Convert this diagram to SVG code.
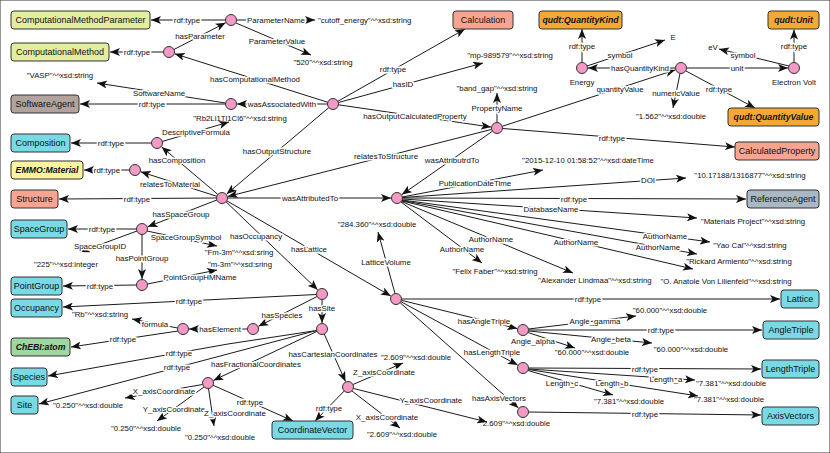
<svg xmlns="http://www.w3.org/2000/svg" width="830" height="453" viewBox="0 0 830 453">
<style>
text{font-family:"Liberation Sans",Arial,sans-serif;dominant-baseline:central;fill:#111}
.l{font-size:7.9px;text-anchor:middle;paint-order:stroke;stroke:#fff;stroke-width:3px;stroke-linejoin:round}
.v{font-size:7.8px;text-anchor:middle}
.b{font-size:9px;text-anchor:middle}
.bi{font-size:8.7px;font-weight:bold;font-style:italic;text-anchor:middle}
rect{stroke:#333;stroke-width:1}
.n{fill:#f59ac4;stroke:#333;stroke-width:1}
.cm{fill:#e4ed9f}.sa{fill:#b3a39d}.cy{fill:#79d9e5}.em{fill:#fbf49f}.sal{fill:#f7a590}.qu{fill:#f4a934}.ra{fill:#a9b8c2}.ch{fill:#9ed79f}
#edges line,#edges polyline{stroke:#1a1a1a;stroke-width:1;fill:none;marker-end:url(#ah)}
</style>
<defs>
<marker id="ah" viewBox="0 0 10 8" refX="10" refY="4" markerWidth="10" markerHeight="8" markerUnits="userSpaceOnUse" orient="auto">
<path d="M0,0 L10,4 L0,8 L2.5,4 z" fill="#111"/>
</marker>
</defs>
<rect width="830" height="453" fill="#fff" stroke="none"/>
<g id="edges">
<line x1="225.5" y1="20" x2="151" y2="20"/>
<line x1="236.5" y1="20" x2="315" y2="20"/>
<line x1="236" y1="23" x2="311" y2="55"/>
<line x1="174" y1="49.5" x2="225.7" y2="22.7"/>
<line x1="163.5" y1="52" x2="110" y2="52"/>
<line x1="327.8" y1="102.3" x2="174.7" y2="53.8"/>
<line x1="327.5" y1="104" x2="237" y2="104"/>
<line x1="225.5" y1="104" x2="80" y2="104"/>
<line x1="225.5" y1="103" x2="97" y2="83"/>
<line x1="162" y1="141.5" x2="229" y2="122"/>
<line x1="151.5" y1="143" x2="71" y2="143"/>
<line x1="217.8" y1="194.4" x2="161.6" y2="146.9"/>
<line x1="216.8" y1="196.3" x2="140.7" y2="171.8"/>
<line x1="129.5" y1="170" x2="84" y2="170"/>
<line x1="216.5" y1="198" x2="59" y2="199"/>
<line x1="216.9" y1="200" x2="147.6" y2="226.8"/>
<line x1="136.5" y1="229" x2="68" y2="229"/>
<line x1="137" y1="231" x2="80" y2="252"/>
<line x1="142" y1="234.5" x2="142" y2="279"/>
<line x1="147" y1="231" x2="217" y2="246"/>
<line x1="136.5" y1="285" x2="63" y2="286"/>
<line x1="147.5" y1="284" x2="217" y2="270"/>
<line x1="227.5" y1="198" x2="391" y2="198"/>
<line x1="328.8" y1="107.6" x2="226.6" y2="194.1"/>
<line x1="491.7" y1="129.4" x2="227.8" y2="196.5"/>
<line x1="492.5" y1="131.2" x2="401.9" y2="194.6"/>
<line x1="337.8" y1="101.3" x2="465" y2="29"/>
<line x1="338.5" y1="102.5" x2="483" y2="63"/>
<line x1="338.4" y1="104.8" x2="491" y2="127.1"/>
<line x1="497" y1="122.5" x2="497" y2="93"/>
<line x1="502.5" y1="128.5" x2="735" y2="147"/>
<line x1="502.2" y1="126.3" x2="675.3" y2="69.9"/>
<line x1="675.5" y1="68" x2="588" y2="68"/>
<line x1="582" y1="62.5" x2="582" y2="29"/>
<line x1="587" y1="66" x2="665" y2="40"/>
<line x1="686.5" y1="68" x2="788" y2="68"/>
<line x1="794" y1="62.5" x2="794" y2="29.5"/>
<line x1="789" y1="66" x2="719" y2="49"/>
<line x1="680" y1="73.5" x2="673" y2="108"/>
<line x1="686" y1="71" x2="755" y2="108"/>
<line x1="402.4" y1="197" x2="543" y2="170"/>
<line x1="402.5" y1="197.5" x2="686" y2="178"/>
<line x1="402.5" y1="198" x2="746" y2="199"/>
<line x1="402.5" y1="199" x2="697" y2="218"/>
<line x1="402" y1="200" x2="710" y2="242"/>
<line x1="402" y1="200.5" x2="697" y2="254"/>
<line x1="402" y1="201" x2="693" y2="269"/>
<line x1="401.5" y1="201.5" x2="573" y2="273"/>
<line x1="401" y1="202" x2="482" y2="263"/>
<line x1="226.8" y1="200.8" x2="390.8" y2="296"/>
<line x1="395" y1="293.5" x2="378" y2="232"/>
<line x1="401.5" y1="299" x2="780" y2="299"/>
<line x1="401.3" y1="300.3" x2="517.2" y2="328.6"/>
<line x1="400.8" y1="301.6" x2="517.7" y2="365.1"/>
<line x1="400.1" y1="302.7" x2="518.5" y2="408"/>
<line x1="528.5" y1="329" x2="636" y2="316"/>
<line x1="528.5" y1="330" x2="762" y2="330"/>
<line x1="528.5" y1="331" x2="652" y2="343"/>
<line x1="528" y1="332.5" x2="575" y2="348"/>
<line x1="528.5" y1="368" x2="761" y2="369"/>
<line x1="528.5" y1="369" x2="695" y2="380"/>
<line x1="528.5" y1="369.5" x2="698" y2="396"/>
<line x1="528" y1="370.5" x2="613" y2="395"/>
<line x1="528.5" y1="412" x2="761" y2="415"/>
<line x1="226" y1="201.8" x2="317.7" y2="289.8"/>
<line x1="316.5" y1="294.5" x2="63" y2="307"/>
<line x1="317.1" y1="296.5" x2="258.4" y2="326.3"/>
<line x1="322" y1="299.5" x2="322" y2="323"/>
<line x1="247.5" y1="329" x2="189" y2="329"/>
<line x1="177.5" y1="328" x2="132" y2="319"/>
<line x1="178" y1="331" x2="71" y2="347"/>
<polyline points="316.6,330.5 228,344 48,376"/>
<line x1="316.5" y1="330.5" x2="39" y2="404"/>
<line x1="317" y1="331.4" x2="213.4" y2="380.4"/>
<line x1="324.2" y1="334" x2="345.5" y2="381.5"/>
<line x1="213" y1="385.2" x2="293" y2="421"/>
<line x1="202.5" y1="384.5" x2="125" y2="398"/>
<line x1="204" y1="387" x2="157" y2="421"/>
<line x1="208.5" y1="388.5" x2="214" y2="426"/>
<line x1="344.2" y1="391" x2="315" y2="421"/>
<line x1="353" y1="384.5" x2="403" y2="363"/>
<line x1="353.5" y1="388.5" x2="487" y2="422"/>
<line x1="352" y1="391" x2="400" y2="428"/>
<text class="l" x="187" y="20">rdf:type</text>
<text class="l" x="276" y="20">ParameterName</text>
<text class="l" x="277" y="41">ParameterValue</text>
<text class="l" x="200" y="36">hasParameter</text>
<text class="l" x="137" y="52">rdf:type</text>
<text class="l" x="255" y="79">hasComputationalMethod</text>
<text class="l" x="282" y="104">wasAssociatedWith</text>
<text class="l" x="152" y="104">rdf:type</text>
<text class="l" x="159" y="93">SoftwareName</text>
<text class="l" x="196" y="132">DescriptiveFormula</text>
<text class="l" x="111" y="143">rdf:type</text>
<text class="l" x="177" y="160">hasComposition</text>
<text class="l" x="170" y="184">relatesToMaterial</text>
<text class="l" x="107" y="170">rdf:type</text>
<text class="l" x="137" y="199">rdf:type</text>
<text class="l" x="181" y="214">hasSpaceGroup</text>
<text class="l" x="102" y="229">rdf:type</text>
<text class="l" x="100" y="246">SpaceGroupID</text>
<text class="l" x="142" y="258">hasPointGroup</text>
<text class="l" x="186" y="237">SpaceGroupSymbol</text>
<text class="l" x="100" y="286">rdf:type</text>
<text class="l" x="200" y="277">PointGroupHMName</text>
<text class="l" x="310" y="198">wasAttributedTo</text>
<text class="l" x="277" y="151">hasOutputStructure</text>
<text class="l" x="386" y="156">relatesToStructure</text>
<text class="l" x="452" y="160">wasAttributrdTo</text>
<text class="l" x="393" y="69">rdf:type</text>
<text class="l" x="403" y="84">hasID</text>
<text class="l" x="415" y="116">hasOutputCalculatedProperty</text>
<text class="l" x="497" y="108">PropertyName</text>
<text class="l" x="612" y="138">rdf:type</text>
<text class="l" x="620" y="89">quantityValue</text>
<text class="l" x="640" y="68">hasQuantityKind</text>
<text class="l" x="582" y="46">rdf:type</text>
<text class="l" x="620" y="55">symbol</text>
<text class="l" x="737" y="68">unit</text>
<text class="l" x="794" y="46">rdf:type</text>
<text class="l" x="743" y="55">symbol</text>
<text class="l" x="676" y="93">numericValue</text>
<text class="l" x="719" y="89">rdf:type</text>
<text class="l" x="475" y="183">PublicationDateTime</text>
<text class="l" x="648" y="180">DOI</text>
<text class="l" x="574" y="199">rdf:type</text>
<text class="l" x="551" y="209">DatabaseName</text>
<text class="l" x="665" y="236">AuthorName</text>
<text class="l" x="658" y="247">AuthorName</text>
<text class="l" x="576" y="242">AuthorName</text>
<text class="l" x="491" y="239">AuthorName</text>
<text class="l" x="462" y="249">AuthorName</text>
<text class="l" x="309" y="249">hasLattice</text>
<text class="l" x="386" y="262">LatticeVolume</text>
<text class="l" x="588" y="299">rdf:type</text>
<text class="l" x="484" y="321">hasAngleTriple</text>
<text class="l" x="492" y="352">hasLengthTriple</text>
<text class="l" x="499" y="398">hasAxisVectors</text>
<text class="l" x="595" y="321">Angle_gamma</text>
<text class="l" x="661" y="330">rdf:type</text>
<text class="l" x="611" y="339">Angle_beta</text>
<text class="l" x="533" y="341">Angle_alpha</text>
<text class="l" x="645" y="369">rdf:type</text>
<text class="l" x="666" y="379">Length_a</text>
<text class="l" x="612" y="383">Length_b</text>
<text class="l" x="562" y="383">Length_c</text>
<text class="l" x="645" y="414">rdf:type</text>
<text class="l" x="256" y="236">hasOccupancy</text>
<text class="l" x="189" y="301">rdf:type</text>
<text class="l" x="282" y="315">hasSpecies</text>
<text class="l" x="322" y="308">hasSite</text>
<text class="l" x="220" y="329">hasElement</text>
<text class="l" x="155" y="324">formula</text>
<text class="l" x="123" y="339">rdf:type</text>
<text class="l" x="179" y="353">rdf:type</text>
<text class="l" x="177" y="367">rdf:type</text>
<text class="l" x="256" y="364">hasFractionalCoordinates</text>
<text class="l" x="333" y="354">hasCartesianCoordinates</text>
<text class="l" x="250" y="402">rdf:type</text>
<text class="l" x="164" y="391">X_axisCoordinate</text>
<text class="l" x="174" y="409">Y_axisCoordinate</text>
<text class="l" x="235" y="413">Z_axisCoordinate</text>
<text class="l" x="329" y="408">rdf:type</text>
<text class="l" x="384" y="372">Z_axisCoordinate</text>
<text class="l" x="431" y="400">Y_axisCoordinate</text>
<text class="l" x="387" y="417">X_axisCoordinate</text>
</g>
<g id="classes">
<g id="c-cmp"><rect class="cm" x="11" y="11" width="139" height="18" rx="3"/><text class="b" x="80.5" y="20">ComputationalMethodParameter</text></g>
<g id="c-cm"><rect class="cm" x="11" y="43" width="98" height="18" rx="3"/><text class="b" x="60" y="52">ComputationalMethod</text></g>
<g id="c-sa"><rect class="sa" x="11" y="95" width="68" height="18" rx="3"/><text class="b" x="45" y="104">SoftwareAgent</text></g>
<g id="c-comp"><rect class="cy" x="11" y="134" width="59" height="18" rx="3"/><text class="b" x="40.5" y="143">Composition</text></g>
<g id="c-emmo"><rect class="em" x="11" y="161" width="72" height="18" rx="3"/><text class="bi" x="47" y="170">EMMO:Material</text></g>
<g id="c-struct"><rect class="sal" x="11" y="190" width="47" height="18" rx="3"/><text class="b" x="34.5" y="199">Structure</text></g>
<g id="c-sg"><rect class="cy" x="11" y="220" width="56" height="18" rx="3"/><text class="b" x="39" y="229">SpaceGroup</text></g>
<g id="c-pg"><rect class="cy" x="11" y="277" width="51" height="18" rx="3"/><text class="b" x="36.5" y="286">PointGroup</text></g>
<g id="c-occ"><rect class="cy" x="11" y="299" width="51" height="18" rx="3"/><text class="b" x="36.5" y="308">Occupancy</text></g>
<g id="c-chebi"><rect class="ch" x="11" y="338" width="59" height="18" rx="3"/><text class="bi" x="40.5" y="347">ChEBI:atom</text></g>
<g id="c-species"><rect class="cy" x="11" y="368" width="36" height="18" rx="3"/><text class="b" x="29" y="377">Species</text></g>
<g id="c-site"><rect class="cy" x="11" y="396" width="27" height="18" rx="3"/><text class="b" x="24.5" y="405">Site</text></g>
<g id="c-cv"><rect class="cy" x="272" y="421" width="81" height="18" rx="3"/><text class="b" x="312.5" y="430">CoordinateVector</text></g>
<g id="c-calc"><rect class="sal" x="453" y="11" width="60" height="18" rx="3"/><text class="b" x="483" y="20">Calculation</text></g>
<g id="c-qk"><rect class="qu" x="539" y="11" width="83" height="18" rx="3"/><text class="bi" x="580.5" y="20">qudt:QuantityKind</text></g>
<g id="c-unit"><rect class="qu" x="768" y="11" width="51" height="18" rx="3"/><text class="bi" x="793.5" y="20">qudt:Unit</text></g>
<g id="c-qv"><rect class="qu" x="728" y="108" width="91" height="18" rx="3"/><text class="bi" x="773.5" y="117">qudt:QuantityValue</text></g>
<g id="c-cp"><rect class="sal" x="735" y="142" width="84" height="18" rx="3"/><text class="b" x="777" y="151">CalculatedProperty</text></g>
<g id="c-ra"><rect class="ra" x="747" y="190" width="72" height="18" rx="3"/><text class="b" x="783" y="199">ReferenceAgent</text></g>
<g id="c-lat"><rect class="cy" x="781" y="290" width="38" height="18" rx="3"/><text class="b" x="800" y="299">Lattice</text></g>
<g id="c-at"><rect class="cy" x="763" y="321" width="56" height="18" rx="3"/><text class="b" x="791" y="330">AngleTriple</text></g>
<g id="c-lt"><rect class="cy" x="762" y="360" width="57" height="18" rx="3"/><text class="b" x="790.5" y="369">LengthTriple</text></g>
<g id="c-av"><rect class="cy" x="762" y="407" width="57" height="18" rx="3"/><text class="b" x="790.5" y="416">AxisVectors</text></g>
</g>
<g id="blank-nodes">
<g id="n-param"><circle class="n" cx="231" cy="20" r="5.5"/></g>
<g id="n-method"><circle class="n" cx="169" cy="52" r="5.5"/></g>
<g id="n-sw"><circle class="n" cx="231" cy="104" r="5.5"/></g>
<g id="n-calc"><circle class="n" cx="333" cy="104" r="5.5"/></g>
<g id="n-comp"><circle class="n" cx="157" cy="143" r="5.5"/></g>
<g id="n-mat"><circle class="n" cx="135" cy="170" r="5.5"/></g>
<g id="n-struct"><circle class="n" cx="222" cy="198" r="5.5"/></g>
<g id="n-sg"><circle class="n" cx="142" cy="229" r="5.5"/></g>
<g id="n-pg"><circle class="n" cx="142" cy="285" r="5.5"/></g>
<g id="n-ref"><circle class="n" cx="397" cy="198" r="5.5"/></g>
<g id="n-occ"><circle class="n" cx="322" cy="294" r="5.5"/></g>
<g id="n-lat"><circle class="n" cx="396" cy="299" r="5.5"/></g>
<g id="n-species"><circle class="n" cx="253" cy="329" r="5.5"/></g>
<g id="n-element"><circle class="n" cx="183" cy="329" r="5.5"/></g>
<g id="n-site"><circle class="n" cx="322" cy="329" r="5.5"/></g>
<g id="n-frac"><circle class="n" cx="208" cy="383" r="5.5"/></g>
<g id="n-cart"><circle class="n" cx="348" cy="387" r="5.5"/></g>
<g id="n-prop"><circle class="n" cx="497" cy="128" r="5.5"/></g>
<g id="n-energy"><circle class="n" cx="582" cy="68" r="5.5"/><text class="v" x="582" y="82">Energy</text></g>
<g id="n-qv"><circle class="n" cx="681" cy="68" r="5.5"/></g>
<g id="n-ev"><circle class="n" cx="794" cy="68" r="5.5"/><text class="v" x="794" y="82">Electron Volt</text></g>
<g id="n-angle"><circle class="n" cx="523" cy="330" r="5.5"/></g>
<g id="n-length"><circle class="n" cx="523" cy="368" r="5.5"/></g>
<g id="n-axis"><circle class="n" cx="523" cy="412" r="5.5"/></g>
</g>
<g id="literals">
<g id="lit-cutoff"><text class="v" x="318" y="20" style="text-anchor:start">"cutoff_energy"^^xsd:string</text></g>
<g id="lit-520"><text class="v" x="323" y="62">"520"^^xsd:string</text></g>
<g id="lit-vasp"><text class="v" x="60" y="75">"VASP"^^xsd:string</text></g>
<g id="lit-formula"><text class="v" x="240" y="118">"Rb2Li1Tl1Cl6"^^xsd:string</text></g>
<g id="lit-225"><text class="v" x="66" y="264">"225"^^xsd:integer</text></g>
<g id="lit-fm3m"><text class="v" x="239" y="252">"Fm-3m"^^xsd:sring</text></g>
<g id="lit-m3m"><text class="v" x="240" y="264">"m-3m"^^xsd:sring</text></g>
<g id="lit-mp"><text class="v" x="510" y="55">"mp-989579"^^xsd:string</text></g>
<g id="lit-bandgap"><text class="v" x="497" y="88">"band_gap"^^xsd:string</text></g>
<g id="lit-E"><text class="v" x="673" y="37">E</text></g>
<g id="lit-eV"><text class="v" x="713" y="47">eV</text></g>
<g id="lit-1562"><text class="v" x="671" y="116">"1.562"^^xsd:double</text></g>
<g id="lit-date"><text class="v" x="588" y="160">"2015-12-10 01:58:52"^^xsd:dateTime</text></g>
<g id="lit-doi"><text class="v" x="750" y="175">"10.17188/1316877"^^xsd:string</text></g>
<g id="lit-mp2"><text class="v" x="753" y="221">"Materials Project"^^xsd:string</text></g>
<g id="lit-yao"><text class="v" x="750" y="245">"Yao Cai"^^xsd:string</text></g>
<g id="lit-rickard"><text class="v" x="739" y="261">"Rickard Armiento"^^xsd:string</text></g>
<g id="lit-anatole"><text class="v" x="726" y="281">"O. Anatole Von Lilienfeld"^^xsd:string</text></g>
<g id="lit-alex"><text class="v" x="595" y="280">"Alexander Lindmaa"^^xsd:string</text></g>
<g id="lit-felix"><text class="v" x="495" y="271">"Felix Faber"^^xsd:string</text></g>
<g id="lit-vol"><text class="v" x="377" y="224">"284.360"^^xsd:double</text></g>
<g id="lit-gamma"><text class="v" x="670" y="310">"60.000"^^xsd:double</text></g>
<g id="lit-beta"><text class="v" x="691" y="349">"60.000"^^xsd:double</text></g>
<g id="lit-alpha"><text class="v" x="592" y="352">"60.000"^^xsd:double</text></g>
<g id="lit-la"><text class="v" x="731" y="383">"7.381"^^xsd:double</text></g>
<g id="lit-lb"><text class="v" x="729" y="399">"7.381"^^xsd:double</text></g>
<g id="lit-lc"><text class="v" x="629" y="401">"7.381"^^xsd:double</text></g>
<g id="lit-rb"><text class="v" x="100" y="314">"Rb"^^xsd:string</text></g>
<g id="lit-fx"><text class="v" x="88" y="405">"0.250"^^xsd:double</text></g>
<g id="lit-fy"><text class="v" x="146" y="428">"0.250"^^xsd:double</text></g>
<g id="lit-fz"><text class="v" x="220" y="437">"0.250"^^xsd:double</text></g>
<g id="lit-cz"><text class="v" x="416" y="357">"2.609"^^xsd:double</text></g>
<g id="lit-cy"><text class="v" x="515" y="423">"2.609"^^xsd:double</text></g>
<g id="lit-cx"><text class="v" x="402" y="434">"2.609"^^xsd:double</text></g>
</g>
</svg>
